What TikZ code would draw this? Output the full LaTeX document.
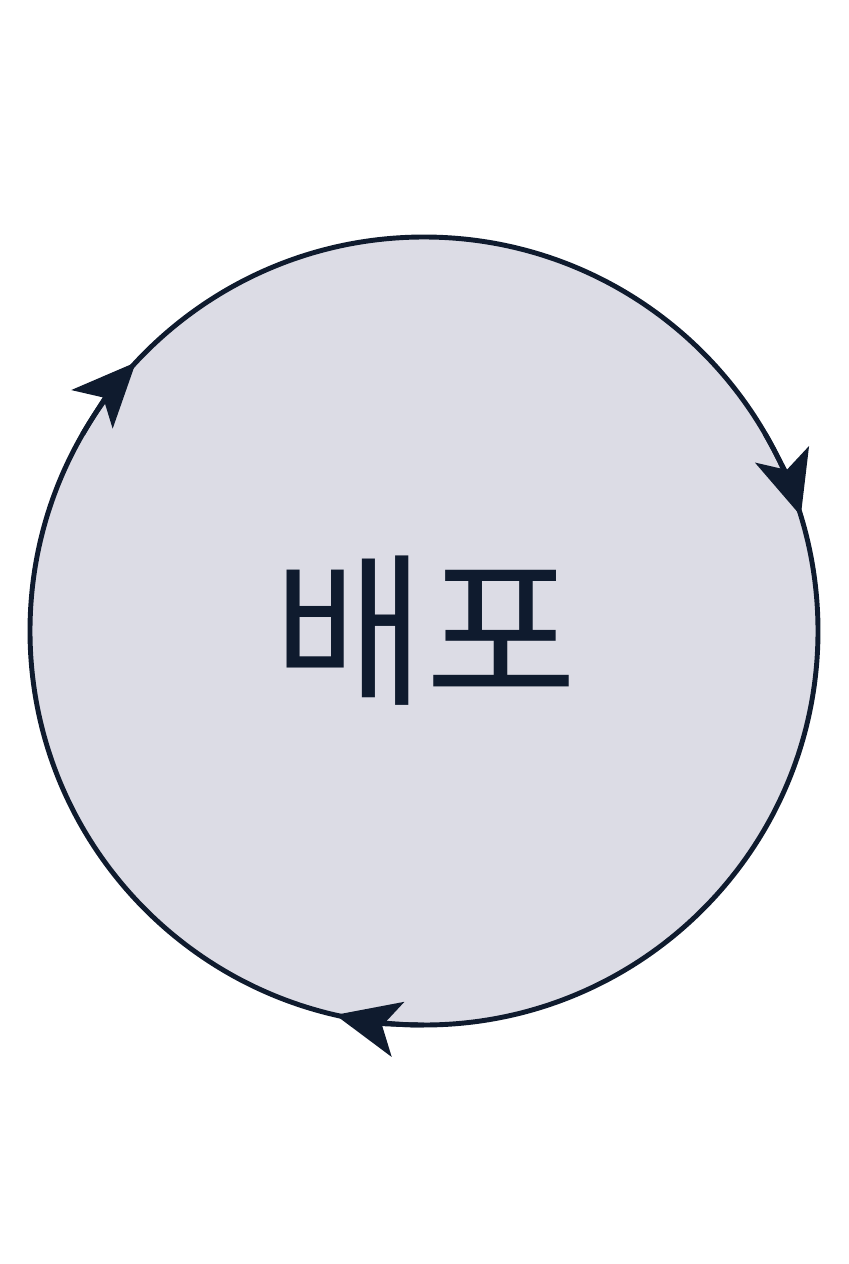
\documentclass[tikz,border=0pt]{standalone}
\usepackage{fontspec}
\newfontfamily\kr{Noto Sans CJK KR}
\usetikzlibrary{arrows.meta}
\definecolor{navy}{HTML}{0F1B2E}
\definecolor{fillc}{HTML}{DCDCE5}
\tikzset{
  cyc/.style={circle, draw=navy, line width=1.4pt, fill=fillc, minimum size=7.88cm, inner sep=0pt, outer sep=0pt},
  arr/.style={draw=navy, line width=1.4pt, -{Stealth[length=0.64cm, width=0.56cm, inset=0.16cm]}},
  lbl/.style={text=navy, font=\kr\fontsize{47}{53}\selectfont}
}
\begin{document}
\begin{tikzpicture}
\useasboundingbox (0,0) rectangle (8.48,-12.64);
\node[cyc] (c) at (4.24,-6.31) {};
\node[lbl] (t) at (4.25,-6.31) {배포};
\draw[arr] (c.150) arc[start angle=150, end angle=137, radius=3.94];
\draw[arr] (c.30) arc[start angle=30, end angle=17, radius=3.94];
\draw[arr] (c.-90) arc[start angle=-90, end angle=-103, radius=3.94];
\end{tikzpicture}
\end{document}
